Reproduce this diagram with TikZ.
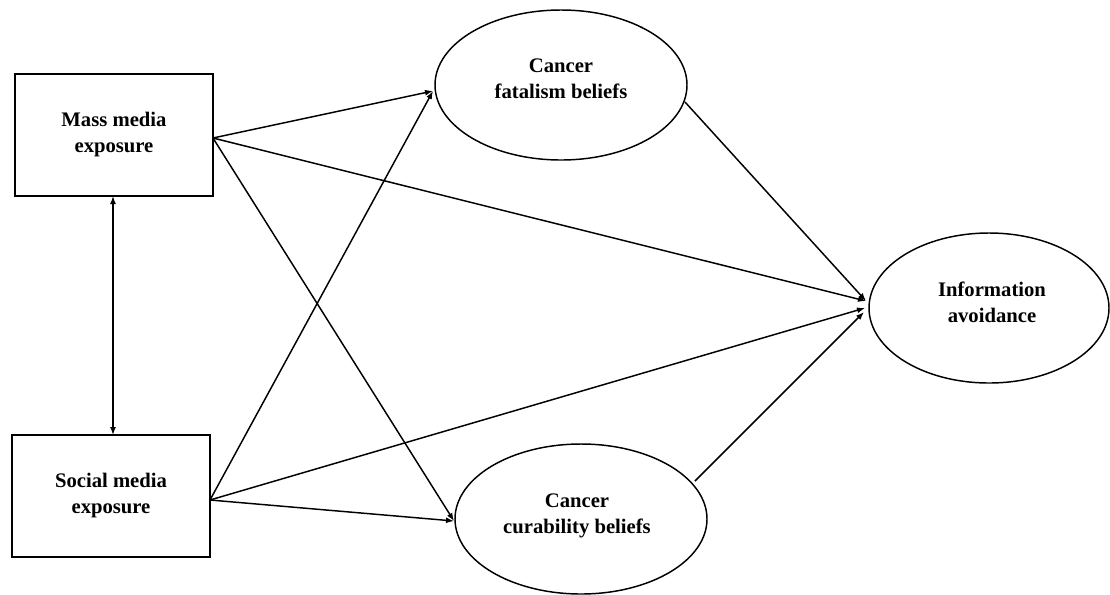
\documentclass[tikz,border=0pt]{standalone}
\usepackage{fontspec}
\setmainfont{Liberation Serif}
\usetikzlibrary{shapes.geometric,arrows.meta}
\begin{document}
\begin{tikzpicture}[x=0.75pt,y=-0.75pt,
  every node/.style={font=\fontsize{15.5pt}{19.5pt}\selectfont\bfseries, align=center, inner sep=0pt},
  varbox/.style={draw, line width=1.2pt, minimum width=148.5pt, minimum height=91.5pt},
  latent/.style={draw, ellipse, line width=1.1pt},
  path/.style={line width=1.1pt, -{Latex[length=6pt,width=4.5pt]}}]
\useasboundingbox (0,0) rectangle (1110,594);
\fill[white] (0,0) rectangle (1110,594);
\node[varbox] (mass) at (114,135) {Mass media\\exposure};
\node[varbox] (social) at (111,496) {Social media\\exposure};
\node[latent, minimum width=189pt, minimum height=112.5pt] (fat) at (561,85) {};
\node at (561,79) {Cancer\\fatalism beliefs};
\node[latent, minimum width=189pt, minimum height=112.5pt] (cur) at (581,519) {};
\node at (577,516) {Cancer\\curability beliefs};
\node[latent, minimum width=180pt, minimum height=112.5pt] (info) at (989,308) {};
\node at (992,302) {Information\\avoidance};
% endpoints
\coordinate (mout) at (213,138);
\coordinate (sout) at (210,500);
\coordinate (fin) at (433,91);
\coordinate (cin) at (454,521);
\coordinate (ina) at (866,301);
\coordinate (inb) at (865,308);
\coordinate (inc) at (864,312);
\coordinate (fout) at (685,102);
\coordinate (cout) at (695,481);
\coordinate (vtop) at (113,196);
\coordinate (vbot) at (113,435);
% connectors
\draw[line width=1.1pt, {Latex[length=6pt,width=4.5pt]}-{Latex[length=6pt,width=4.5pt]}] (vtop) -- (vbot);
\draw[path] (mout) -- (fin);
\draw[path] (mout) -- (ina);
\draw[path] (mout) -- (cin);
\draw[path] (sout) -- (fin);
\draw[path] (sout) -- (inb);
\draw[path] (sout) -- (cin);
\draw[path] (fout) -- (ina);
\draw[path] (cout) -- (inc);
\end{tikzpicture}
\end{document}
